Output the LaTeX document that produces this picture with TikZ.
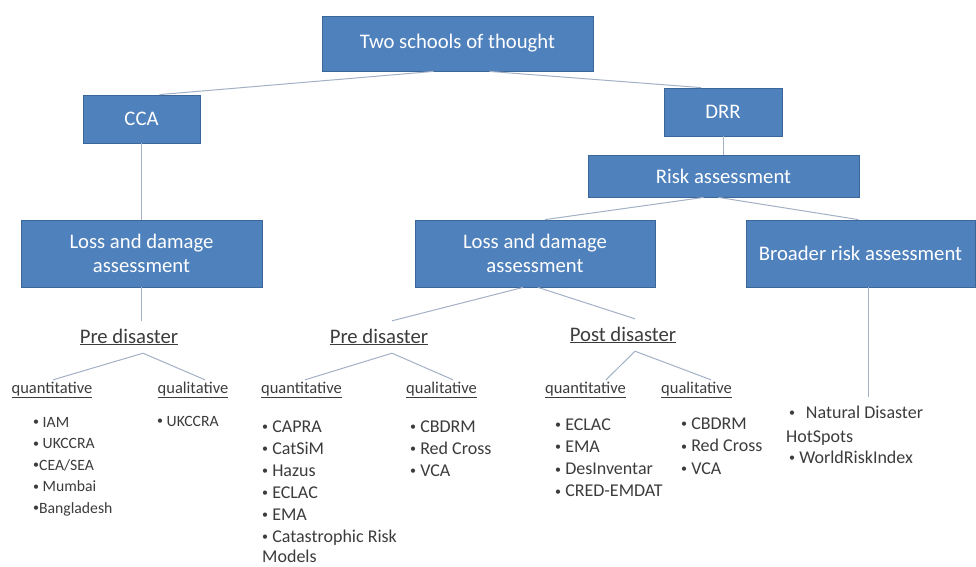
\documentclass[tikz,border=0pt]{standalone}
\usepackage{fontspec}
\setmainfont{Carlito}
\definecolor{boxblue}{HTML}{4F81BD}
\definecolor{boxedge}{HTML}{3B6699}
\definecolor{linec}{HTML}{A3B1C6}
\definecolor{txt}{HTML}{3C3C3C}
\newcommand\bul{{\fontsize{12}{12}\selectfont\raisebox{0.12em}{•}}}
\begin{document}
\begin{tikzpicture}[x=1pt,y=-1pt,
 box/.style={draw=boxedge, line width=0.8pt, fill=boxblue, text=white, font=\fontsize{20.7}{24}\selectfont, align=center, inner sep=0pt},
 conn/.style={draw=linec, line width=1pt},
 head/.style={text=txt, font=\fontsize{20.7}{24}\selectfont, minimum height=32pt, inner sep=0pt},
 sub/.style={text=txt, font=\fontsize{16.5}{18}\selectfont, minimum height=20pt, inner sep=0pt},
 itemS/.style={text=txt, font=\fontsize{15.7}{18}\selectfont, anchor=base west, inner sep=0pt},
 itemL/.style={text=txt, font=\fontsize{18}{20}\selectfont, anchor=base west, inner sep=0pt}]
\useasboundingbox (0,0) rectangle (976,566);
\fill[white] (0,0) rectangle (976,566);

% boxes
\node[box, minimum width=271pt, minimum height=55pt] (top) at (457.5,43.5) {Two schools of thought};
\node[box, minimum width=117pt, minimum height=48pt] (cca) at (141.5,119) {CCA};
\node[box, minimum width=118pt, minimum height=48pt] (drr) at (723,112) {DRR};
\node[box, minimum width=271pt, minimum height=42pt] (ra) at (723.5,176) {Risk assessment};
\node[box, minimum width=241pt, minimum height=67pt] (ldl) at (141.5,253.5) {Loss and damage\\assessment};
\node[box, minimum width=240pt, minimum height=67pt] (ldm) at (535,253.5) {Loss and damage\\assessment};
\node[box, minimum width=229pt, minimum height=67pt] (bra) at (860.5,253.5) {Broader risk assessment};

% headings
\node[head] (prel) at (129,337) {\underline{Pre disaster}};
\node[head] (prem) at (379,337) {\underline{Pre disaster}};
\node[head] (post) at (623,335) {\underline{Post disaster}};

\node[sub] (lquan) at (52,390) {\underline{quantitative}};
\node[sub] (lqual) at (193,390) {\underline{qualitative}};
\node[sub] (mquan) at (301.5,390) {\underline{quantitative}};
\node[sub] (mqual) at (441.5,390) {\underline{qualitative}};
\node[sub] (pquan) at (585.5,390) {\underline{quantitative}};
\node[sub] (pqual) at (696.5,390) {\underline{qualitative}};

% connectors
\draw[conn] ([xshift=-24pt]top.south) -- ([xshift=18pt]cca.north);
\draw[conn] ([xshift=32pt]top.south) -- ([xshift=-22pt]drr.north);
\draw[conn] (drr.south) -- (drr.south |- ra.north);
\draw[conn] (cca.south) -- (cca.south |- ldl.north);
\draw[conn] ([xshift=-20pt]ra.south) -- ([xshift=10pt]ldm.north);
\draw[conn] ([xshift=-5pt]ra.south) -- ([xshift=-2pt]bra.north);
\draw[conn] (ldl.south) -- (ldl.south |- prel.north);
\draw[conn] ([xshift=-12pt]ldm.south) -- ([xshift=13pt]prem.north);
\draw[conn] ([xshift=3pt]ldm.south) -- ([xshift=12pt]post.north);
\draw[conn] ([xshift=14pt]prel.south) -- ([xshift=1pt]lquan.north);
\draw[conn] ([xshift=14pt]prel.south) -- ([xshift=12pt]lqual.north);
\draw[conn] ([xshift=13pt]prem.south) -- ([xshift=3.5pt]mquan.north);
\draw[conn] ([xshift=13pt]prem.south) -- ([xshift=11.5pt]mqual.north);
\draw[conn] ([xshift=12pt]post.south) -- ([xshift=20.5pt]pquan.north);
\draw[conn] ([xshift=12pt]post.south) -- ([xshift=14.5pt]pqual.north);
\coordinate (braend) at (868,397);
\draw[conn] (bra.south -| braend) -- (braend);

% lists
\foreach \t [count=\i] in {\bul\ IAM, \bul\ UKCCRA, \bul CEA/SEA, \bul\ Mumbai, \bul Bangladesh}
  \node[itemS] (la\i) at (33,{427+21.5*(\i-1)}) {\t};
\node[itemS] (lb1) at (157,426) {\bul\ UKCCRA};
\foreach \t [count=\i] in {\bul\ CAPRA, \bul\ CatSiM, \bul\ Hazus, \bul\ ECLAC, \bul\ EMA, \bul\ Catastrophic Risk}
  \node[itemL] (ma\i) at (262,{432+22*(\i-1)}) {\t};
\node[itemL] (ma7) at (262,562) {Models};
\foreach \t [count=\i] in {\bul\ CBDRM, \bul\ Red Cross, \bul\ VCA}
  \node[itemL] (mb\i) at (410,{432+22*(\i-1)}) {\t};
\foreach \t [count=\i] in {\bul\ ECLAC, \bul\ EMA, \bul\ DesInventar, \bul\ CRED-EMDAT}
  \node[itemL] (pa\i) at (555,{430+22.3*(\i-1)}) {\t};
\foreach \t [count=\i] in {\bul\ CBDRM, \bul\ Red Cross, \bul\ VCA}
  \node[itemL] (pb\i) at (681,{429+22.5*(\i-1)}) {\t};
\node[itemL] (br1) at (789,418) {\bul\hspace{0.6em}Natural Disaster};
\node[itemL] (br2) at (786,442) {HotSpots};
\node[itemL] (br3) at (789,463) {\bul\ WorldRiskIndex};
\end{tikzpicture}
\end{document}
